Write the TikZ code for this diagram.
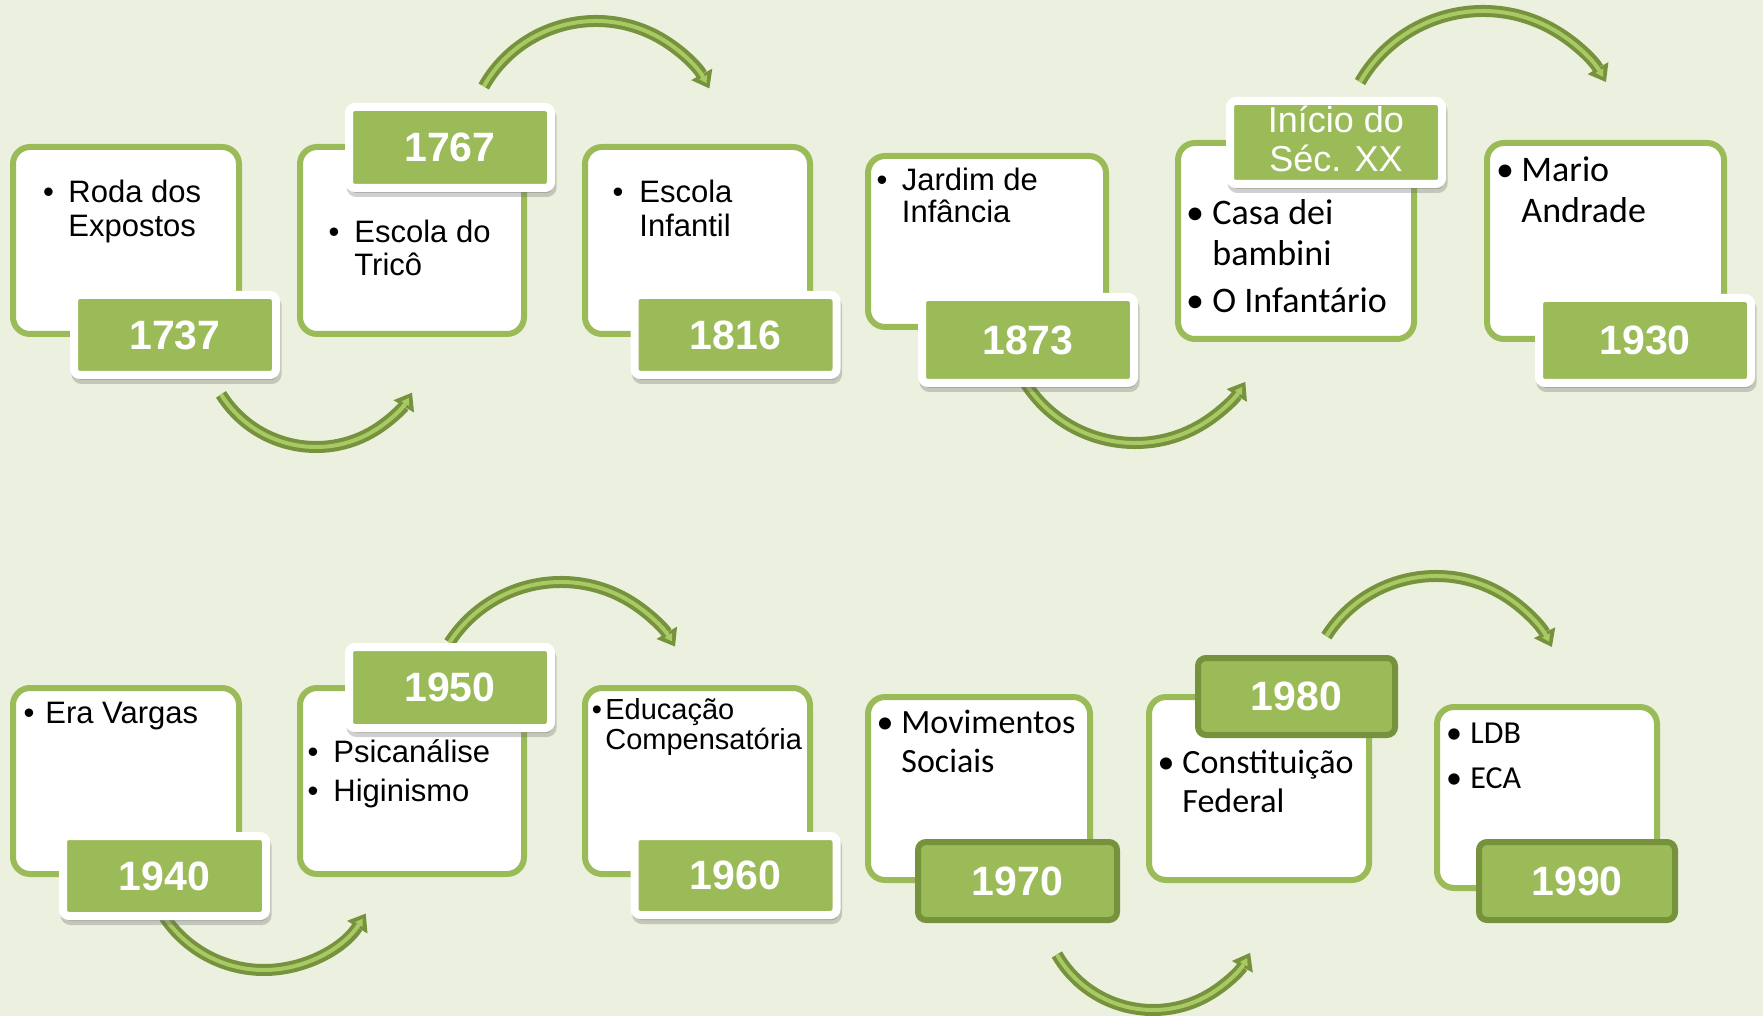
\documentclass[tikz,border=0pt]{standalone}
\usepackage{fontspec}
\setmainfont{Liberation Sans}
\newfontfamily\calfont{Carlito}
\usetikzlibrary{shadows,arrows.meta}
\definecolor{bgc}{HTML}{EBF1DE}
\definecolor{olv}{HTML}{9BBB59}
\definecolor{olvd}{HTML}{76923C}
\definecolor{olvl}{HTML}{A8C964}
\newcommand\yrfont{\fontsize{20.5}{24}\selectfont\bfseries}
\newcommand\arfont{\fontsize{15.5}{18}\selectfont}
\newcommand\arsmall{\fontsize{14.5}{17}\selectfont}
\newcommand\inifont{\fontsize{18}{21}\selectfont}
\newcommand\cfbig{\calfont\fontsize{18}{21}\selectfont}
\newcommand\cfmid{\calfont\fontsize{17}{20}\selectfont}
\newcommand\cfsm{\calfont\fontsize{16}{19}\selectfont}
\tikzset{
  tbox/.style={rectangle, draw=olv, line width=3pt, fill=white, rounded corners=8.5pt, inner sep=0pt},
  ywhite/.style={rectangle, fill=olv, draw=white, line width=4pt, rounded corners=3pt, inner sep=0pt,
    text=white, font=\yrfont,
    drop shadow={shadow xshift=0.8pt, shadow yshift=-2.5pt, opacity=0.3, fill=black!60, draw=black!60, line width=4pt}},
  ydark/.style={rectangle, fill=olv, draw=olvd, line width=3pt, rounded corners=4pt, inner sep=0pt,
    text=white, font=\yrfont},
  bul/.style={anchor=base, inner sep=0pt},
  btxt/.style={anchor=base west, inner sep=0pt},
  arcdark/.style={draw=olvd, line width=6pt, -{Triangle[length=8pt,width=12pt,line width=0pt]}},
  arclight/.style={draw=olvl, line width=2pt, shorten >=3pt, -{Triangle[length=3.5pt,width=4.5pt,line width=0pt]}},
}
\begin{document}
\begin{tikzpicture}[x=0.5pt,y=-0.5pt]
\fill[bgc] (0,0) rectangle (1763,1016);
\useasboundingbox (0,0) rectangle (1763,1016);

% arc centres
\coordinate (c1) at (316,335);
\coordinate (c2) at (596,150);
\coordinate (c3) at (1135,313);
\coordinate (c4) at (1483,153);
\coordinate (c5) at (264,850);
\coordinate (c6) at (561,715);
\coordinate (c7) at (1153,899);
\coordinate (c8) at (1436,706);

\foreach \st in {arcdark,arclight}{
  \draw[\st] ([shift={(148:112)}]c1) arc[start angle=148, end angle=31, radius=112];
  \draw[\st] ([shift={(209.5:129)}]c2) arc[start angle=209.5, end angle=331.5, radius=129];
  \draw[\st] ([shift={(147.5:130)}]c3) arc[start angle=147.5, end angle=32, radius=130];
  \draw[\st] ([shift={(210:142)}]c4) arc[start angle=210, end angle=330, radius=142];
  \draw[\st] ([shift={(146:120)}]c5) arc[start angle=146, end angle=32, radius=120];
  \draw[\st] ([shift={(213:133)}]c6) arc[start angle=213, end angle=329, radius=133];
  \draw[\st] ([shift={(150:111)}]c7) arc[start angle=150, end angle=29, radius=111];
  \draw[\st] ([shift={(212.5:130)}]c8) arc[start angle=212.5, end angle=333, radius=130];
}

% main boxes, top row
\node[tbox, minimum width=113pt, minimum height=93.5pt] (bA) at (126,240.5) {};
\node[tbox, minimum width=112pt, minimum height=93.5pt] (bB) at (412,240.5) {};
\node[tbox, minimum width=112.5pt, minimum height=93.5pt] (bC) at (697.5,240.5) {};
\node[tbox, minimum width=119pt, minimum height=85.5pt] (bD) at (987,241.5) {};
\node[tbox, minimum width=118pt, minimum height=98pt] (bE) at (1296,241) {};
\node[tbox, minimum width=118.5pt, minimum height=98pt] (bF) at (1605.5,241) {};
% main boxes, bottom row
\node[tbox, minimum width=113pt, minimum height=93pt] (bG) at (126,781) {};
\node[tbox, minimum width=112pt, minimum height=93pt] (bH) at (412,781) {};
\node[tbox, minimum width=112.5pt, minimum height=93pt] (bI) at (697.5,781) {};
\node[tbox, minimum width=111pt, minimum height=91.5pt] (bJ) at (979,788.5) {};
\node[tbox, minimum width=110pt, minimum height=91.5pt] (bK) at (1259,788.5) {};
\node[tbox, minimum width=110pt, minimum height=90.5pt] (bL) at (1547,797.5) {};

% texts, top row
\node[bul, font=\arfont] (tA0) at (48.5,203) {•};
\node[btxt, font=\arfont] (tA1) at (68,203) {Roda dos};
\node[btxt, font=\arfont] (tA2) at (68,237) {Expostos};
\node[bul, font=\arfont] (tB0) at (334,243) {•};
\node[btxt, font=\arfont] (tB1) at (354,243) {Escola do};
\node[btxt, font=\arfont] (tB2) at (354,276) {Tricô};
\node[bul, font=\arfont] (tC0) at (618,203) {•};
\node[btxt, font=\arfont] (tC1) at (639,203) {Escola};
\node[btxt, font=\arfont] (tC2) at (639,237) {Infantil};
\node[bul, font=\arfont] (tD0) at (882,191) {•};
\node[btxt, font=\arfont] (tD1) at (901.5,191) {Jardim de};
\node[btxt, font=\arfont] (tD2) at (901.5,223) {Infância};
\node[bul, font=\cfbig] (tE0) at (1195,225) {•};
\node[btxt, font=\cfbig] (tE1) at (1212,225) {Casa dei};
\node[btxt, font=\cfbig] (tE2) at (1212,266) {bambini};
\node[bul, font=\cfbig] (tE3) at (1195,313) {•};
\node[btxt, font=\cfbig] (tE4) at (1212,313) {O Infantário};
\node[bul, font=\cfbig] (tF0) at (1505,182) {•};
\node[btxt, font=\cfbig] (tF1) at (1521,182) {Mario};
\node[btxt, font=\cfbig] (tF2) at (1521,223) {Andrade};
% texts, bottom row
\node[bul, font=\arfont] (tG0) at (29,723) {•};
\node[btxt, font=\arfont] (tG1) at (45,723) {Era Vargas};
\node[bul, font=\arfont] (tH0) at (313,762) {•};
\node[btxt, font=\arfont] (tH1) at (333,762) {Psicanálise};
\node[bul, font=\arfont] (tH2) at (313,801) {•};
\node[btxt, font=\arfont] (tH3) at (333,801) {Higinismo};
\node[bul, font=\arsmall] (tI0) at (597,719) {•};
\node[btxt, font=\arsmall] (tI1) at (605,719) {Educação};
\node[btxt, font=\arsmall] (tI2) at (605,749) {Compensatória};
\node[bul, font=\cfmid] (tJ0) at (885,733) {•};
\node[btxt, font=\cfmid] (tJ1) at (901,733) {Movimentos};
\node[btxt, font=\cfmid] (tJ2) at (901,772) {Sociais};
\node[bul, font=\cfmid] (tK0) at (1166,773) {•};
\node[btxt, font=\cfmid] (tK1) at (1182,773) {Constituição};
\node[btxt, font=\cfmid] (tK2) at (1182,812) {Federal};
\node[bul, font=\cfsm] (tL0) at (1454,743) {•};
\node[btxt, font=\cfsm] (tL1) at (1470,743) {LDB};
\node[bul, font=\cfsm] (tL2) at (1454,788) {•};
\node[btxt, font=\cfsm] (tL3) at (1470,788) {ECA};

% year boxes
\node[ywhite, minimum width=101pt, minimum height=40pt] (yA) at (175,335) {1737};
\node[ywhite, minimum width=101pt, minimum height=40.5pt] (yB) at (450,147.5) {1767};
\node[ywhite, minimum width=101pt, minimum height=40pt] (yC) at (735.5,335) {1816};
\node[ywhite, minimum width=106pt, minimum height=43pt] (yD) at (1028,340) {1873};
\node[ywhite, minimum width=106pt, minimum height=41.5pt] (yE) at (1336,142.5) {};
\node[anchor=base, inner sep=0pt, text=white, font=\inifont] (yE1) at (1336,133) {Início do};
\node[anchor=base, inner sep=0pt, text=white, font=\inifont] (yE2) at (1336,172) {Séc. XX};
\node[ywhite, minimum width=106pt, minimum height=42.5pt] (yF) at (1645,340.5) {1930};
\node[ywhite, minimum width=101.5pt, minimum height=40pt] (yG) at (164.5,876) {1940};
\node[ywhite, minimum width=101pt, minimum height=40.5pt] (yH) at (450,687.5) {1950};
\node[ywhite, minimum width=101pt, minimum height=39.5pt] (yI) at (735.5,875.5) {1960};
\node[ydark, minimum width=99.5pt, minimum height=39pt] (yJ) at (1017.5,881) {1970};
\node[ydark, minimum width=98.5pt, minimum height=38.5pt] (yK) at (1296.5,696.5) {1980};
\node[ydark, minimum width=98pt, minimum height=39pt] (yL) at (1577,881) {1990};
\end{tikzpicture}
\end{document}
